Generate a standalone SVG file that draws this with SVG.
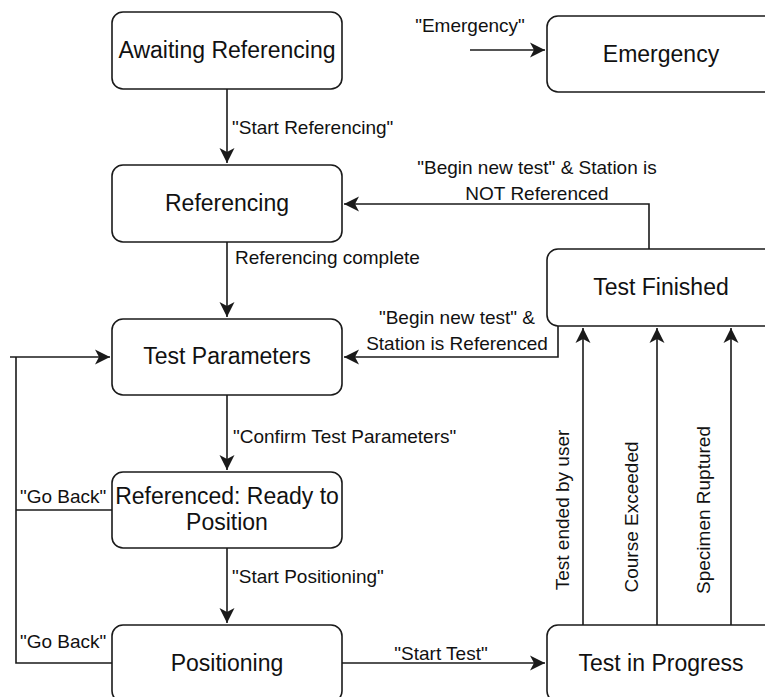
<svg xmlns="http://www.w3.org/2000/svg" width="765" height="697" viewBox="0 0 765 697">
<style>
.box{fill:#fff;stroke:#1a1a1a;stroke-width:1.6}
.nt{font-family:"Liberation Sans",Arial,sans-serif;font-size:23px;fill:#111;text-anchor:middle}
.lb{font-family:"Liberation Sans",Arial,sans-serif;font-size:19px;fill:#111}
.ln{fill:none;stroke:#1a1a1a;stroke-width:1.6}
.ar{marker-end:url(#arr)}
</style>
<defs>
<marker id="arr" markerUnits="userSpaceOnUse" markerWidth="20" markerHeight="20" viewBox="-16 -10 20 20" refX="0" refY="0" orient="auto">
<path d="M0,0 L-15,-7.5 L-11,0 L-15,7.5 Z" fill="#1a1a1a"/>
</marker>
</defs>
<rect width="765" height="697" fill="#fff"/>
<g id="connectors">
<path class="ln ar" d="M227,89 V163"/>
<text class="lb" x="232" y="134">"Start Referencing"</text>
<path class="ln ar" d="M227,242 V317"/>
<text class="lb" x="235" y="264">Referencing complete</text>
<path class="ln ar" d="M227,395 V470"/>
<text class="lb" x="233" y="443">"Confirm Test Parameters"</text>
<path class="ln ar" d="M227,548 V623"/>
<text class="lb" x="232" y="583">"Start Positioning"</text>
<path class="ln ar" d="M470,50 H545"/>
<text class="lb" x="470" y="32" text-anchor="middle">"Emergency"</text>
<path class="ln ar" d="M649,249 V204 H344"/>
<text class="lb" x="537" y="174" text-anchor="middle">"Begin new test" &amp; Station is</text>
<text class="lb" x="537" y="200" text-anchor="middle">NOT Referenced</text>
<path class="ln ar" d="M558,326 V357 H344"/>
<text class="lb" x="457" y="324" text-anchor="middle">"Begin new test" &amp;</text>
<text class="lb" x="457" y="350" text-anchor="middle">Station is Referenced</text>
<path class="ln ar" d="M10,357 H110"/>
<path class="ln" d="M112,663 H16 V357"/>
<path class="ln" d="M112,510 H16"/>
<text class="lb" x="20" y="503">"Go Back"</text>
<text class="lb" x="20" y="648">"Go Back"</text>
<path class="ln ar" d="M342,663 H545"/>
<text class="lb" x="441" y="660" text-anchor="middle">"Start Test"</text>
<path class="ln ar" d="M583,625 V328"/>
<path class="ln ar" d="M657,625 V328"/>
<path class="ln ar" d="M731,625 V328"/>
<text class="lb" text-anchor="middle" transform="translate(569,510) rotate(-90)">Test ended by user</text>
<text class="lb" text-anchor="middle" transform="translate(638,517) rotate(-90)">Course Exceeded</text>
<text class="lb" text-anchor="middle" transform="translate(710,510) rotate(-90)">Specimen Ruptured</text>
</g>
<g id="awaiting">
<rect class="box" x="112" y="12" width="230" height="77" rx="11"/>
<text class="nt" x="227" y="58">Awaiting Referencing</text>
</g>
<g id="emergency">
<rect class="box" x="547" y="16" width="230" height="76" rx="11"/>
<text class="nt" x="661" y="62">Emergency</text>
</g>
<g id="referencing">
<rect class="box" x="112" y="165" width="230" height="77" rx="11"/>
<text class="nt" x="227" y="211">Referencing</text>
</g>
<g id="test-finished">
<rect class="box" x="547" y="249" width="230" height="77" rx="11"/>
<text class="nt" x="661" y="295">Test Finished</text>
</g>
<g id="test-parameters">
<rect class="box" x="112" y="319" width="230" height="76" rx="11"/>
<text class="nt" x="227" y="364">Test Parameters</text>
</g>
<g id="referenced-ready">
<rect class="box" x="112" y="472" width="230" height="76" rx="11"/>
<text class="nt" x="227" y="504">Referenced: Ready to</text>
<text class="nt" x="227" y="530">Position</text>
</g>
<g id="positioning">
<rect class="box" x="112" y="625" width="230" height="77" rx="11"/>
<text class="nt" x="227" y="671">Positioning</text>
</g>
<g id="test-in-progress">
<rect class="box" x="547" y="625" width="230" height="77" rx="11"/>
<text class="nt" x="661" y="671">Test in Progress</text>
</g>
</svg>
